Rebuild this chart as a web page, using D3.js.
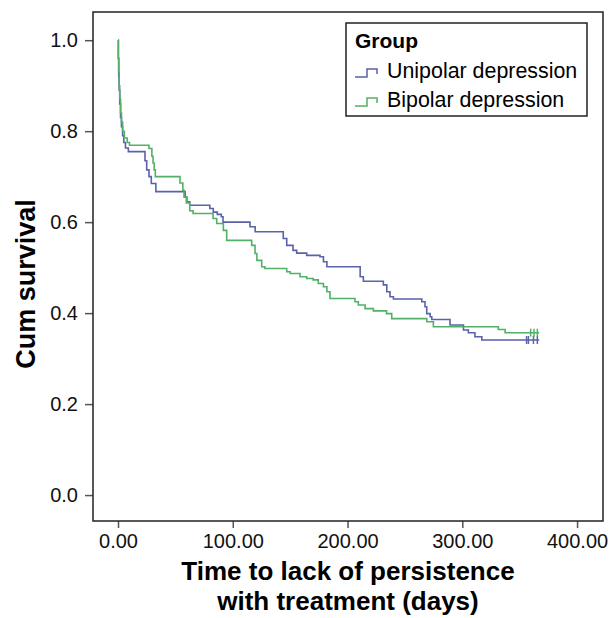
<!DOCTYPE html>
<html>
<head>
<meta charset="utf-8">
<script src="https://cdn.jsdelivr.net/npm/d3@7"></script>
<style>
  body { margin: 0; background: #fff; }
  svg { display: block; font-family: "Liberation Sans", Arial, sans-serif; }
  .tick text { font-size: 20px; fill: #111; }
  .tick line { stroke: #555; stroke-width: 1.5; }
  .domain { display: none; }
</style>
</head>
<body>
<svg id="chart" width="611" height="618"></svg>
<script>
// Kaplan-Meier steps: [days, cumulative survival]
const unipolarSteps = [
  [0, 1.0], [0.3, 0.96], [0.6, 0.92], [1, 0.89], [1.5, 0.86], [2.2, 0.83], [3, 0.81],
  [4, 0.79], [5, 0.775], [6.5, 0.763], [9, 0.755], [23.5, 0.735], [25, 0.715],
  [27, 0.70], [29, 0.685], [33, 0.667], [58.5, 0.655], [60, 0.645], [62.5, 0.637],
  [80, 0.63], [83, 0.622], [86.5, 0.617], [90, 0.612], [91.5, 0.60], [115, 0.59],
  [119.5, 0.579], [144, 0.564], [147, 0.549], [152.5, 0.538], [155.7, 0.532],
  [164.4, 0.527], [176, 0.524], [179, 0.513], [182, 0.502], [211, 0.48], [213.8, 0.47],
  [231.2, 0.462], [234.2, 0.447], [237, 0.436], [240, 0.431], [264.7, 0.425],
  [267.5, 0.414], [269, 0.399], [272, 0.392], [273.4, 0.386], [289.3, 0.374],
  [301, 0.363], [305.3, 0.357], [311, 0.348], [317, 0.341], [367, 0.341]
]
const bipolarSteps = [
  [0, 1.0], [0.3, 0.96], [0.6, 0.93], [1, 0.90], [1.5, 0.87], [2.2, 0.84], [3, 0.82],
  [4, 0.80], [5.5, 0.785], [8, 0.775], [10, 0.769], [27, 0.762], [29.5, 0.745],
  [30.5, 0.73], [31.5, 0.715], [32.5, 0.70], [54, 0.686], [56.5, 0.67], [57.5, 0.655],
  [59.5, 0.642], [62.5, 0.625], [65.4, 0.619], [82.8, 0.608], [86, 0.597], [91.8, 0.582],
  [94.7, 0.56], [116.5, 0.549], [119.4, 0.531], [121, 0.516], [125.2, 0.502],
  [128, 0.498], [147, 0.491], [150, 0.487], [158.6, 0.48], [164.4, 0.476], [170, 0.473],
  [174.5, 0.465], [179, 0.458], [182, 0.447], [184.7, 0.432], [206.5, 0.425],
  [209.4, 0.418], [215.3, 0.41], [222.5, 0.405], [234, 0.399], [238.5, 0.388],
  [269, 0.381], [274.8, 0.37], [331.4, 0.364], [337.3, 0.357], [367, 0.357]
]
const unipolarCensored = [356, 357.6, 362, 365.4]
const bipolarCensored = [359.6, 362.5, 365.4]

const xTicks = [0, 100, 200, 300, 400]
const yTicks = [0, 0.2, 0.4, 0.6, 0.8, 1.0]

const groups = [
  {name: 'Unipolar depression', steps: unipolarSteps, censored: unipolarCensored, color: '#5a62aa'},
  {name: 'Bipolar depression', steps: bipolarSteps, censored: bipolarCensored, color: '#52b067'}
]

const frame = {left: 93, right: 603, top: 12, bottom: 521}

const x = d3.scaleLinear().domain([-21.8, 422.6]).range([frame.left, frame.right])
const y = d3.scaleLinear().domain([-0.057, 1.062]).range([frame.bottom, frame.top])

const svg = d3.select('#chart')

svg.append('g')
  .attr('transform', `translate(0,${frame.bottom})`)
  .call(d3.axisBottom(x).tickValues(xTicks).tickSize(7).tickPadding(6).tickFormat(d3.format('.2f')))

svg.append('g')
  .attr('transform', `translate(${frame.left},0)`)
  .call(d3.axisLeft(y).tickValues(yTicks).tickSize(8).tickPadding(7).tickFormat(d3.format('.1f')))

svg.append('rect')
  .attr('x', frame.left).attr('y', frame.top)
  .attr('width', frame.right - frame.left).attr('height', frame.bottom - frame.top)
  .attr('fill', 'none').attr('stroke', '#222').attr('stroke-width', 1.5)

const line = d3.line()
  .x(d => x(d[0]))
  .y(d => y(d[1]))
  .curve(d3.curveStepAfter)

const curves = svg.append('g')

groups.forEach(g => {
  curves.append('path')
    .datum(g.steps)
    .attr('d', line)
    .attr('fill', 'none')
    .attr('stroke', g.color)
    .attr('stroke-width', 1.6)

  // survival at censor time
  const at = t => {
    let s = g.steps[0][1]
    g.steps.forEach(d => { if (d[0] <= t) s = d[1] })
    return s
  }

  curves.selectAll(null)
    .data(g.censored)
    .join('line')
    .attr('x1', d => x(d)).attr('x2', d => x(d))
    .attr('y1', d => y(at(d)) - 4).attr('y2', d => y(at(d)) + 4)
    .attr('stroke', g.color)
    .attr('stroke-width', 1.5)
})

// axis titles
svg.append('text')
  .attr('x', (frame.left + frame.right) / 2).attr('y', 580)
  .attr('text-anchor', 'middle')
  .style('font-size', '26px').style('font-weight', 'bold')
  .text('Time to lack of persistence')

svg.append('text')
  .attr('x', (frame.left + frame.right) / 2).attr('y', 610)
  .attr('text-anchor', 'middle')
  .style('font-size', '26px').style('font-weight', 'bold')
  .text('with treatment (days)')

svg.append('text')
  .attr('transform', 'translate(35,284) rotate(-90)')
  .attr('text-anchor', 'middle')
  .style('font-size', '27px').style('font-weight', 'bold')
  .text('Cum survival')

// legend
const legend = svg.append('g')

legend.append('rect')
  .attr('x', 346).attr('y', 23).attr('width', 241).attr('height', 93)
  .attr('fill', '#fff').attr('stroke', '#222').attr('stroke-width', 1.5)

legend.append('text')
  .attr('x', 355).attr('y', 48)
  .style('font-size', '21px').style('font-weight', 'bold')
  .text('Group')

groups.forEach((g, i) => {
  const yy = 78 + i * 29
  legend.append('path')
    .attr('d', `M355,${yy - 1}H367V${yy - 9}H377V${yy - 4}`)
    .attr('fill', 'none').attr('stroke', g.color).attr('stroke-width', 1.5)
  legend.append('text')
    .attr('x', 387).attr('y', yy)
    .style('font-size', '21.4px')
    .text(g.name)
})
</script>
</body>
</html>
